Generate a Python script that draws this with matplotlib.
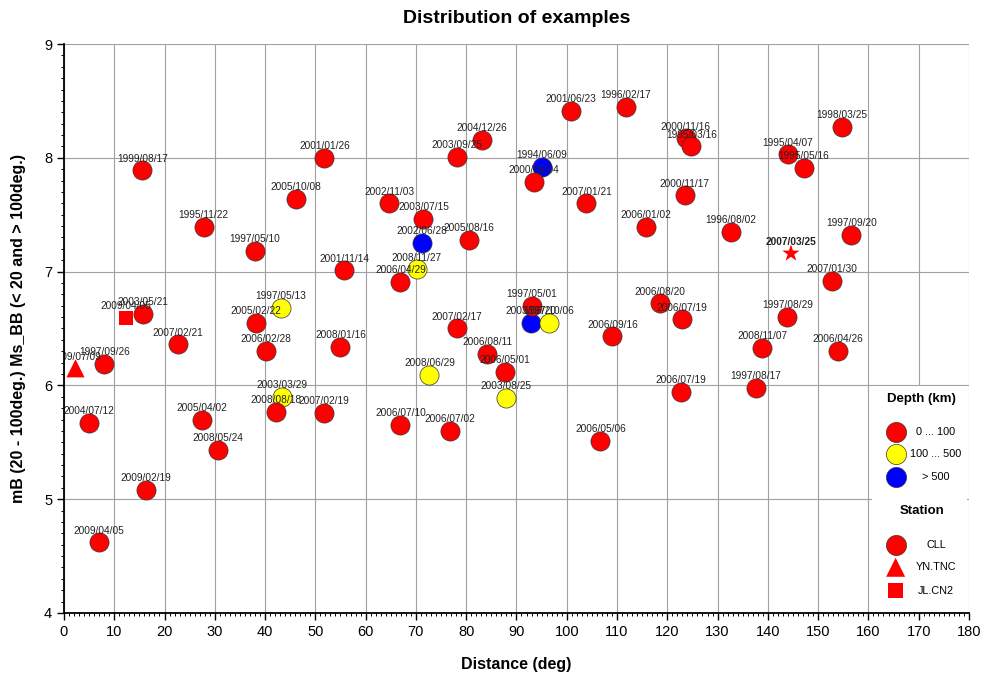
import matplotlib.pyplot as plt
from matplotlib.patches import Rectangle
from matplotlib.ticker import MultipleLocator

plt.rcParams['font.family'] = ['Liberation Sans', 'DejaVu Sans']

# event dates, distance (deg), magnitude, depth class, station
dates = ['1999/08/17', '2001/01/26', '2005/10/08', '1995/11/22', '1997/05/10', '2001/11/14',
         '2003/05/21', '2009/04/05', '1997/05/13', '2005/02/22', '2007/02/21', '2006/02/28',
         '2008/01/16', '1997/09/26', '2009/07/09', '2003/03/29', '2008/08/18', '2007/02/19',
         '2004/07/12', '2005/04/02', '2008/05/24', '2009/02/19', '2009/04/05', '2001/06/23',
         '1996/02/17', '2004/12/26', '2003/09/25', '1994/06/09', '2000/06/04', '2002/11/03',
         '2007/01/21', '2003/07/15', '2006/01/02', '2005/08/16', '2002/06/28', '2008/11/27',
         '2006/04/29', '1997/05/01', '2003/06/20', '1997/10/06', '2007/02/17', '2006/09/16',
         '2006/08/20', '2006/08/11', '2006/05/01', '2008/06/29', '2003/08/25', '2006/07/10',
         '2006/07/02', '2006/05/06', '2000/11/16', '1995/03/16', '1998/03/25', '1995/04/07',
         '1995/05/16', '2000/11/17', '1996/08/02', '1997/09/20', '2007/03/25', '2007/01/30',
         '2006/07/19', '1997/08/29', '2008/11/07', '2006/04/26', '2006/07/19', '1997/08/17']
dist = [15.6, 51.8, 46.1, 27.8, 37.9, 55.7,
        15.7, 12.4, 43.2, 38.2, 22.6, 40.2,
        55.0, 8.0, 2.3, 43.3, 42.2, 51.7,
        5.0, 27.5, 30.7, 16.3, 6.9, 100.8,
        111.7, 83.2, 78.2, 95.1, 93.5, 64.7,
        103.9, 71.5, 115.7, 80.6, 71.2, 70.2,
        66.9, 93.1, 92.9, 96.5, 78.1, 109.1,
        118.5, 84.2, 87.7, 72.7, 87.9, 66.9,
        76.7, 106.7, 123.7, 124.8, 154.7, 144.0,
        147.1, 123.5, 132.6, 156.6, 144.6, 152.7,
        122.9, 143.9, 138.9, 153.9, 122.7, 137.6]
mag = [7.89, 8.00, 7.64, 7.39, 7.18, 7.01,
       6.63, 6.59, 6.68, 6.55, 6.36, 6.30,
       6.34, 6.19, 6.15, 5.90, 5.77, 5.76,
       5.67, 5.70, 5.43, 5.08, 4.62, 8.41,
       8.45, 8.16, 8.01, 7.92, 7.79, 7.60,
       7.60, 7.46, 7.39, 7.28, 7.25, 7.02,
       6.91, 6.70, 6.55, 6.55, 6.50, 6.43,
       6.72, 6.28, 6.12, 6.09, 5.89, 5.65,
       5.60, 5.51, 8.17, 8.10, 8.27, 8.03,
       7.91, 7.67, 7.35, 7.32, 7.16, 6.92,
       6.58, 6.60, 6.33, 6.30, 5.94, 5.98]
depth = ['0-100'] * 66
for i in [8, 15, 35, 39, 45, 46]:
    depth[i] = '100-500'
for i in [27, 34, 38]:
    depth[i] = '>500'
station = ['CLL'] * 66
station[7] = 'JL.CN2'
station[14] = 'YN.TNC'
station[58] = 'target'

depth_colors = {'0-100': '#ff0000', '100-500': '#ffff00', '>500': '#0000ff'}
station_markers = {'CLL': ('o', 190), 'YN.TNC': ('^', 170), 'JL.CN2': ('s', 100), 'target': ('*', 170)}

fig = plt.figure(figsize=(9.84, 6.75), dpi=100)
ax = fig.add_axes([0.065, 0.0919, 0.9197, 0.8429])

# yellow/blue first so red sits on top where they overlap
order = [i for i in range(len(dates)) if depth[i] != '0-100'] + [i for i in range(len(dates)) if depth[i] == '0-100']
for i in order:
    m, s = station_markers[station[i]]
    ec = '#333333' if m == 'o' else 'none'
    ax.scatter(dist[i], mag[i], s=s, marker=m, c=depth_colors[depth[i]],
               edgecolors=ec, linewidths=0.5, zorder=3)

for i in range(len(dates)):
    ax.annotate(dates[i], (dist[i], mag[i]), xytext=(0, 8.5), textcoords='offset points',
                ha='center', va='center', fontsize=7.3, color='#222222',
                fontweight='bold' if station[i] == 'target' else 'normal',
                zorder=5, annotation_clip=False, clip_on=True)

ax.set_xlim(0, 180)
ax.set_ylim(4, 9)
ax.xaxis.set_major_locator(MultipleLocator(10))
ax.xaxis.set_minor_locator(MultipleLocator(1))
ax.yaxis.set_major_locator(MultipleLocator(1))
ax.yaxis.set_minor_locator(MultipleLocator(0.1))
ax.tick_params(which='major', length=5, width=1, labelsize=10.5, color='black')
ax.tick_params(which='minor', length=2.5, width=0.7)
ax.grid(True, which='major', color='#a0a0a0', linewidth=0.8, zorder=0)
ax.set_axisbelow(True)
for side in ['top', 'right']:
    ax.spines[side].set_visible(False)
for side in ['left', 'bottom']:
    ax.spines[side].set_linewidth(1.3)
    ax.spines[side].set_zorder(7)

ax.set_xlabel('Distance (deg)', fontsize=11.5, fontweight='bold', labelpad=13)
ax.set_ylabel('mB (20 - 100deg.) Ms_BB (< 20 and > 100deg.)', fontsize=11.5, fontweight='bold', labelpad=13)
fig.text(0.525, 0.973, 'Distribution of examples', ha='center', va='center', fontsize=14, fontweight='bold')

# legend panel in the lower right corner
ax.add_patch(Rectangle((0.8925, 0.0), 0.1055, 0.399, transform=ax.transAxes, facecolor='white',
                       edgecolor='none', zorder=4, clip_on=False))
mx, lx = 0.919, 0.9635
ax.text(0.9477, 0.3756, 'Depth (km)', transform=ax.transAxes, ha='center', va='center',
        fontsize=9.5, fontweight='bold', zorder=6)
depth_rows = [('0-100', '0 ... 100', 0.3186), ('100-500', '100 ... 500', 0.2789), ('>500', '> 500', 0.2385)]
for key, txt, yy in depth_rows:
    ax.scatter(mx, yy, s=210, marker='o', c=depth_colors[key], edgecolors='#333333', linewidths=0.5,
               transform=ax.transAxes, zorder=6, clip_on=False)
    ax.text(lx, yy, txt, transform=ax.transAxes, ha='center', va='center', fontsize=7.8, zorder=6)
ax.text(0.9477, 0.1793, 'Station', transform=ax.transAxes, ha='center', va='center',
        fontsize=9.5, fontweight='bold', zorder=6)
station_rows = [('CLL', 'CLL', 0.1195), ('YN.TNC', 'YN.TNC', 0.0803), ('JL.CN2', 'JL.CN2', 0.0392)]
for key, txt, yy in station_rows:
    m, s = station_markers[key]
    ec = '#333333' if m == 'o' else 'none'
    ax.scatter(mx, yy, s=s * 1.1, marker=m, c='#ff0000', edgecolors=ec, linewidths=0.5,
               transform=ax.transAxes, zorder=6, clip_on=False)
    ax.text(lx, yy, txt, transform=ax.transAxes, ha='center', va='center', fontsize=7.8, zorder=6)

fig.savefig('out.png', dpi=100)
